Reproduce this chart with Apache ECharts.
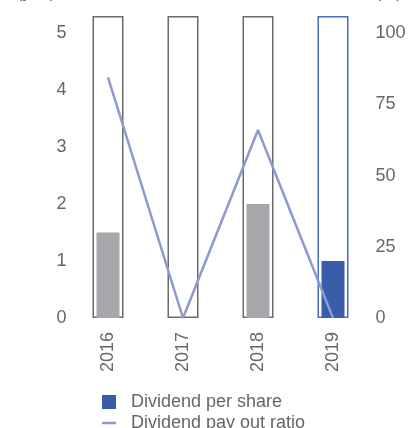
<!DOCTYPE html>
<html>
<head>
<meta charset="utf-8">
<script src="https://cdn.jsdelivr.net/npm/echarts@6/dist/echarts.min.js"></script>
<style>html,body{margin:0;padding:0;background:#fff;overflow:hidden;}#c{width:408px;height:428px;}</style>
</head>
<body>
<div id="c"></div>
<script>
var categories = ['2016', '2017', '2018', '2019'];
var dividendPerShare = [1.5, 0, 2.0, 1.0];
var payoutRatio = [84.5, 0, 66, 0];
var frameValues = [5.3, 5.3, 5.3, 5.3];
var leftTicks = [0, 1, 2, 3, 4, 5];
var rightTicks = [0, 25, 50, 75, 100];

var GRAY = '#a7a8ab', BLUE = '#3a5dab', LINE = '#8e99cf', FRAME = '#6b6b6b', FRAMEBLUE = '#4a6cbc', TXT = '#666';
var FONT = 'Liberation Sans';

var chart = echarts.init(document.getElementById('c'), null, {renderer: 'canvas'});
chart.setOption({
  animation: false,
  textStyle: {fontFamily: FONT},
  grid: {left: 70.5, right: 37.5, top: 16, bottom: 110, outerBoundsMode: 'none', containLabel: false},
  legend: {
    orient: 'vertical', left: 97, top: 388, height: 80, itemWidth: 14, itemHeight: 14, itemGap: 3,
    textStyle: {color: TXT, fontSize: 18, fontFamily: FONT, padding: [0, 0, 0, 10]},
    data: [
      {name: 'Dividend per share', icon: 'rect'},
      {name: 'Dividend pay out ratio', icon: 'path://M0,0h14v2.5h-14z'}
    ]
  },
  xAxis: [{
    type: 'category', data: categories,
    axisLine: {show: false}, axisTick: {show: false},
    axisLabel: {rotate: 90, color: TXT, fontSize: 18, margin: 14, fontFamily: FONT}
  }, {
    type: 'category', data: categories, show: false
  }],
  yAxis: [{
    type: 'value', min: 0, max: 5.3, interval: 1,
    name: '(yen)', nameLocation: 'end', nameGap: 14,
    nameTextStyle: {color: TXT, fontSize: 17, align: 'right', padding: [0, 15, 0, 0]},
    axisLine: {show: false}, axisTick: {show: false}, splitLine: {show: false},
    axisLabel: {color: TXT, fontSize: 18, margin: 4, showMaxLabel: false, fontFamily: FONT,
      formatter: function (v) { return leftTicks.indexOf(v) >= 0 ? String(v) : ''; }}
  }, {
    type: 'value', min: 0, max: 106, interval: 25, position: 'right',
    name: '(%)', nameLocation: 'end', nameGap: 14,
    nameTextStyle: {color: TXT, fontSize: 17, align: 'left', padding: [0, 0, 0, 5]},
    axisLine: {show: false}, axisTick: {show: false}, splitLine: {show: false},
    axisLabel: {color: TXT, fontSize: 18, margin: 5, showMaxLabel: false, fontFamily: FONT,
      formatter: function (v) { return rightTicks.indexOf(v) >= 0 ? String(v) : ''; }}
  }],
  series: [{
    name: 'frame', type: 'bar', xAxisIndex: 1, yAxisIndex: 0, barWidth: 31,
    silent: true, z: 1,
    data: frameValues.map(function (v, i) {
      return {value: v, itemStyle: {color: 'rgba(0,0,0,0)', borderColor: i === 3 ? FRAMEBLUE : FRAME, borderWidth: 1.5}};
    })
  }, {
    name: 'Dividend per share', type: 'bar', xAxisIndex: 0, yAxisIndex: 0, barWidth: 23, z: 2,
    itemStyle: {color: BLUE},
    data: dividendPerShare.map(function (v, i) {
      return {value: v, itemStyle: {color: i === 3 ? BLUE : GRAY}};
    })
  }, {
    name: 'Dividend pay out ratio', type: 'line', xAxisIndex: 0, yAxisIndex: 1, z: 5,
    symbol: 'none', lineStyle: {color: LINE, width: 2.5}, itemStyle: {color: LINE},
    data: payoutRatio
  }]
});
</script>
</body>
</html>
